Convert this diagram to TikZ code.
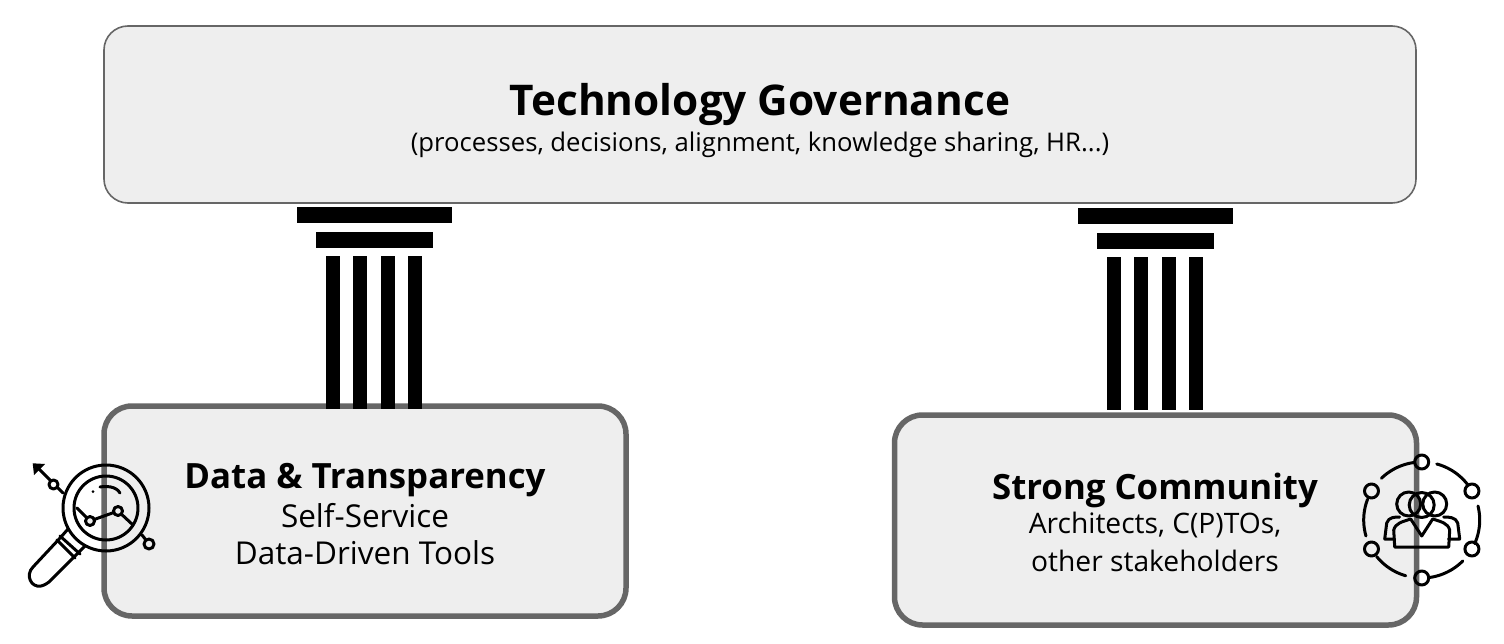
\documentclass[tikz,border=0pt]{standalone}
\usepackage{fontspec}
\setmainfont{Open Sans}
\definecolor{boxfill}{HTML}{EEEEEE}
\definecolor{boxline}{HTML}{666666}
\tikzset{
	box/.style={draw=boxline, fill=boxfill, rounded corners=28pt, line width=5.5pt},
	topbox/.style={box, rounded corners=24pt, line width=1.6pt},
	bigtitle/.style={font=\bfseries\fontsize{42.3}{42.3}\selectfont},
	boxtitle/.style={font=\bfseries\fontsize{34.8}{34.8}\selectfont},
	subtext/.style={font=\fontsize{25.7}{25.7}\selectfont},
	boxtext/.style={font=\fontsize{31.5}{31.5}\selectfont},
	boxtextsmall/.style={font=\fontsize{28.2}{28.2}\selectfont},
	icon/.style={line width=3pt, line cap=round, line join=round},
}
\begin{document}
\begin{tikzpicture}[x=1pt, y=-1pt]
	\useasboundingbox (0,0) rectangle (1504,644);
	% boxes
	\node[topbox, minimum width=1312pt, minimum height=177pt] (governance) at (760,114.5) {};
	\node[box, minimum width=522pt, minimum height=210pt] (data) at (365,511) {};
	\node[box, minimum width=522pt, minimum height=210pt] (community) at (1155.5,520) {};
	
	% labels
	\node[bigtitle] (governancetitle) at (760,105) {Technology Governance};
	\node[subtext] (governancetext) at (760,145) {(processes, decisions, alignment, knowledge sharing, HR...)};
	\node[boxtitle] (datatitle) at (365,480) {Data \& Transparency};
	\node[boxtext] (datatexta) at (365,516) {Self-Service};
	\node[boxtext] (datatextb) at (365,553) {Data-Driven Tools};
	\node[boxtitle] (communitytitle) at (1155,490) {Strong Community};
	\node[boxtextsmall] (communitytexta) at (1155,525) {Architects, C(P)TOs,};
	\node[boxtextsmall] (communitytextb) at (1155,561) {other stakeholders};
	
	% pillars
	\foreach \px/\py in {0/0, 781/1} {
		\fill (297+\px,207+\py) rectangle (452+\px,223+\py);
		\fill (316+\px,232+\py) rectangle (433+\px,248+\py);
		\foreach \sx in {326,353.3,380.7,408}
			\fill (\sx+\px,256+\py) rectangle (\sx+14+\px,409+\py);
	}
	
	% magnifier icon
	\begin{scope}[icon]
		\draw (106,508) circle (43);
		\draw (106,508) circle (32);
		\draw (63,493) -- (37,467);
		\fill (32.7,463.3) -- (45,464) -- (34,475) -- cycle;
		\draw[fill=white] (53.5,484.5) circle (4.5);
		\draw (142,535) -- (146,540);
		\draw (149,544) circle (5);
		\draw (77,508) -- (90,521) -- (118,511) -- (133,525);
		\draw[fill=boxfill] (90,521) circle (4.5);
		\draw[fill=boxfill] (118,511) circle (4.5);
		\fill (93,491.5) circle (1.5);
		\draw (100,487) .. controls (106,486) and (116,486) .. (120,493);
		\draw (60,536) -- (80,554);
		\draw (57,540) -- (75,558);
		\draw (61,537) -- (33,567) .. controls (25,575) and (31,588) .. (41,586) .. controls (45,585) and (46,584) .. (49,582) -- (78,553);
		\draw (61,537) -- (68,529);
		\draw (78,553) -- (85,546);
	\end{scope}
	
	% community icon
	\begin{scope}[icon, shift={(1421.7,520)}]
		\foreach \a/\b in {-134/-97, -75/-37, -14/24, 45/82, 106/141, 164/201}
			\draw plot[domain=\a:\b, samples=20, smooth] ({58*cos(\x)},{58*sin(\x)});
		\foreach \n in {-90,-30,30,90,150,210}
			\draw ({58*cos(\n)},{58*sin(\n)}) circle (7);
		\draw (-13,-16) circle (12);
		\draw (13,-16) circle (12);
		\draw (0,-15) circle (12.5);
		\draw (-27,27) -- (27,27) -- (28,10) .. controls (26,3) and (20,2) .. (11,-1) -- (0,16) -- (-11,-1) .. controls (-20,2) and (-26,3) .. (-28,10) -- cycle;
		\draw (-27,19) -- (-37,19) -- (-35,3) .. controls (-33,-3) and (-27,-3) .. (-22,-3);
		\draw (27,19) -- (38,19) -- (36,3) .. controls (34,-3) and (27,-3) .. (22,-3);
	\end{scope}
\end{tikzpicture}
\end{document}
